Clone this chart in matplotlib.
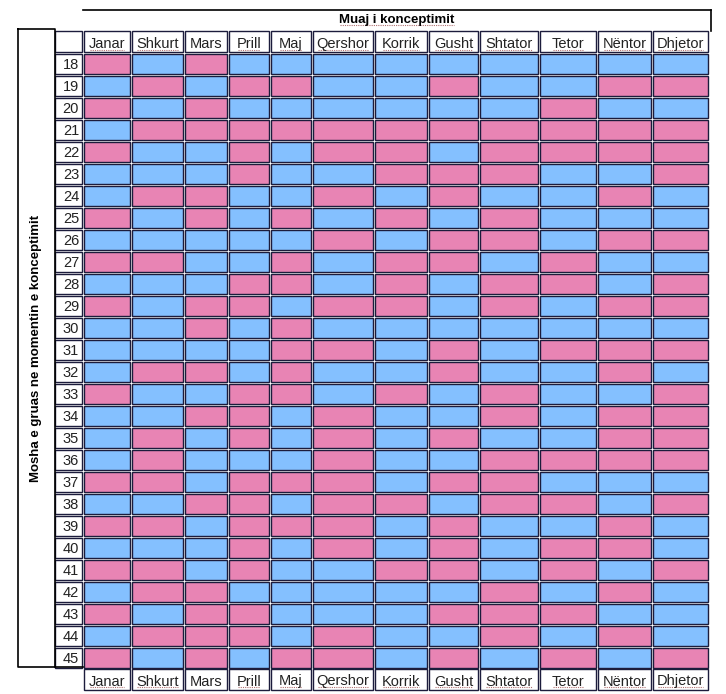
import numpy as np
import matplotlib
matplotlib.use('Agg')
import matplotlib.pyplot as plt
from matplotlib.patches import Rectangle

# --- data -------------------------------------------------------------
months = ['Janar', 'Shkurt', 'Mars', 'Prill', 'Maj', 'Qershor', 'Korrik',
          'Gusht', 'Shtator', 'Tetor', 'Nëntor', 'Dhjetor']
ages = list(range(18, 46))
# P = pink (vajze), B = blue (djale), one string per age, one letter per month
gender = [
    'PBPBBBBBBBBB',  # 18
    'BPBPPBBPBBPP',  # 19
    'PBPBBBBBBPBB',  # 20
    'BPPPPPPPPPPP',  # 21
    'PBBPBPPBPPPP',  # 22
    'BBBPBBPPPBBP',  # 23
    'BPPBBPBPBBPB',  # 24
    'PBPBPBPBPBBB',  # 25
    'BBBBBPBPPBPP',  # 26
    'PPBBPBPPBPBB',  # 27
    'BBBPPBPBPPBP',  # 28
    'PBPPBPPBPBPP',  # 29
    'BBPBPBBBBBBB',  # 30
    'BBBBPPBPBPPP',  # 31
    'BPPBPBBPBBPB',  # 32
    'PBBPPBPBPBBP',  # 33
    'BBPPBPBBPBPP',  # 34
    'BPBPBPBPBBPP',  # 35
    'BPBBBPBBPPPP',  # 36
    'PPBPPPBPPBBB',  # 37
    'BBPPBPPBPPBP',  # 38
    'PPBPPPBPBBPB',  # 39
    'BBBPBPBPBPPB',  # 40
    'PPBPBBPPBPBP',  # 41
    'BPPBBBBBPBPB',  # 42
    'PBPPBBBPPPBB',  # 43
    'BPPPBPBBPBPB',  # 44
    'PBPBPPBPBPBP',  # 45
]
title_top = 'Muaj i konceptimit'
title_side = 'Mosha e gruas ne momentin e konceptimit'

# --- layout (pixels) --------------------------------------------------
col_edges = [83, 131, 184, 228, 270, 312, 374, 428, 479, 539, 597, 652, 709]
row_top = 53
row_h = 22
pink = '#e884b4'
blue = '#84c0ff'
edge = '#1c1c3c'

W, H = 726, 694
fig = plt.figure(figsize=(W / 100, H / 100), dpi=100)
ax = fig.add_axes([0, 0, 1, 1])
ax.set_xlim(0, W)
ax.set_ylim(H, 0)
ax.axis('off')

narrow = ['Liberation Sans Narrow', 'Liberation Sans', 'DejaVu Sans']
boldf = ['Liberation Sans', 'DejaVu Sans']

# colour cells
for i, age in enumerate(ages):
    y0 = row_top + i * row_h
    for j, m in enumerate(months):
        x0, x1 = col_edges[j], col_edges[j + 1]
        c = pink if gender[i][j] == 'P' else blue
        ax.add_patch(Rectangle((x0 + 1, y0 + 1), x1 - x0 - 2, row_h - 2,
                               facecolor=c, edgecolor=edge, lw=1.0))
    # age box
    ax.add_patch(Rectangle((55, y0 + 1), 27, row_h - 2,
                           facecolor='white', edgecolor=edge, lw=1.0))
    ax.text(79, y0 + row_h / 2 + 1, str(age), ha='right', va='center',
            fontsize=10.5, family=narrow, color='#222222')

# month header boxes (top and bottom)
month_texts = []
for yb, yh in [(31, 21), (669, 21)]:
    ax.add_patch(Rectangle((55, 31), 27, 21, facecolor='white',
                           edgecolor=edge, lw=1.0)) if yb == 31 else None
    for j, m in enumerate(months):
        x0, x1 = col_edges[j], col_edges[j + 1]
        ax.add_patch(Rectangle((x0 + 1, yb), x1 - x0 - 2, yh,
                               facecolor='white', edgecolor=edge, lw=1.0))
        t = ax.text((x0 + x1) / 2, yb + yh / 2 + 2, m, ha='center',
                    va='center', fontsize=10.5, family=narrow,
                    color='#222222')
        if m != 'Mars':
            month_texts.append(t)

# top title with frame lines
ax.plot([83, 711], [10, 10], color='black', lw=1.2)
ax.plot([711, 711], [10, 31], color='black', lw=1.2)
tt = ax.text(397, 20, title_top, ha='center', va='center', fontsize=9.5,
             family=boldf, fontweight='bold')
month_texts.append(tt)

# side box with vertical label
ax.plot([18, 55, 55, 18, 18], [29, 29, 667, 667, 29], color='black', lw=1.2)
ax.plot([55, 83], [667, 667], color='black', lw=1.2)
ax.text(36, 348, title_side, ha='center', va='center', rotation=90,
        fontsize=9.5, family=boldf, fontweight='bold')

# dotted spell-check underlines
fig.canvas.draw()
inv = ax.transData.inverted()
for t in month_texts:
    bb = t.get_window_extent()
    (xa, ya), (xb, yb2) = inv.transform([[bb.x0, bb.y0], [bb.x1, bb.y1]])
    ax.plot([xa + 1, xb - 1], [ya - 1, ya - 1], color='#b07070', lw=0.8,
            ls=(0, (1, 1)))

fig.savefig('out.png', dpi=100)
